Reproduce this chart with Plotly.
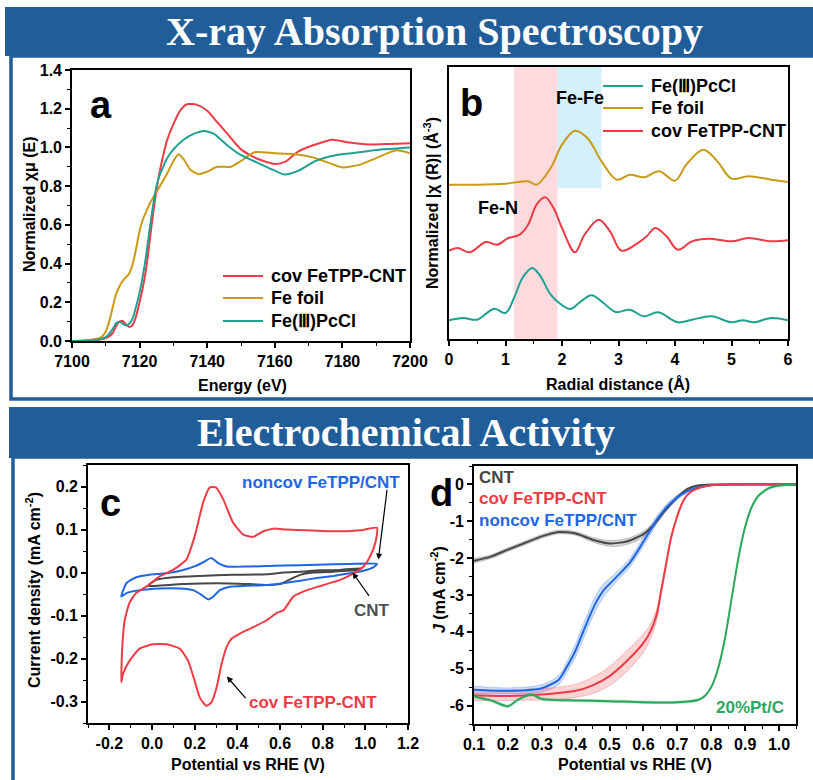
import plotly.graph_objects as go

# ---------------- Panel a : XANES ----------------
E_cov = [7100, 7105, 7108, 7110, 7112, 7113, 7114, 7115, 7116, 7117, 7118, 7119, 7120, 7121, 7122,
         7123, 7124, 7125, 7126, 7127, 7128, 7130, 7132, 7134, 7137, 7140, 7143, 7146, 7150, 7155,
         7160, 7163, 7167, 7172, 7177, 7182, 7188, 7194, 7200]
mu_cov = [0, 0.002, 0.006, 0.015, 0.04, 0.075, 0.1, 0.103, 0.085, 0.072, 0.085, 0.13, 0.2, 0.28, 0.38,
          0.52, 0.66, 0.78, 0.88, 0.96, 1.03, 1.12, 1.19, 1.223, 1.22, 1.19, 1.13, 1.07, 0.99, 0.94,
          0.915, 0.925, 0.98, 1.015, 1.04, 1.025, 1.015, 1.018, 1.022]

E_foil = [7100, 7104, 7107, 7109, 7110, 7111, 7112, 7113, 7114, 7115, 7116, 7117, 7118, 7119, 7120,
          7121, 7122, 7123, 7124, 7125, 7126, 7128, 7130, 7131.5, 7133, 7135, 7137.5, 7140, 7143,
          7147, 7150, 7154, 7160, 7166, 7171, 7176, 7180, 7185, 7190, 7196, 7200]
mu_foil = [0, 0.003, 0.01, 0.025, 0.05, 0.1, 0.17, 0.24, 0.28, 0.31, 0.33, 0.35, 0.4, 0.48, 0.57,
           0.63, 0.67, 0.71, 0.74, 0.77, 0.8, 0.86, 0.93, 0.965, 0.94, 0.885, 0.862, 0.875, 0.9,
           0.9, 0.93, 0.975, 0.97, 0.965, 0.95, 0.92, 0.897, 0.91, 0.945, 0.985, 0.97]

E_pc = [7100, 7105, 7108, 7110, 7112, 7113, 7114, 7115, 7116, 7117, 7118, 7119, 7120, 7121, 7122,
        7123, 7124, 7125, 7126, 7127, 7128, 7130, 7133, 7136, 7139, 7142, 7146, 7150, 7155, 7160,
        7163, 7167, 7172, 7178, 7185, 7192, 7200]
mu_pc = [0, 0.003, 0.008, 0.02, 0.06, 0.09, 0.1, 0.09, 0.08, 0.09, 0.12, 0.18, 0.25, 0.34, 0.45,
         0.58, 0.7, 0.8, 0.86, 0.9, 0.94, 0.99, 1.04, 1.07, 1.085, 1.07, 1.01, 0.96, 0.92, 0.88,
         0.86, 0.88, 0.93, 0.96, 0.975, 0.99, 1.0]

# ---------------- Panel b : FT-EXAFS (offset, arb. units) ----------------
R_pc = [0, 0.25, 0.5, 0.8, 1.0, 1.15, 1.3, 1.47, 1.6, 1.8, 1.95, 2.15, 2.3, 2.52, 2.7, 2.95, 3.2,
        3.45, 3.7, 4.05, 4.3, 4.65, 5.0, 5.2, 5.4, 5.7, 6.0]
chi_pc = [0.686, 0.772, 0.711, 1.115, 0.956, 1.507, 2.243, 2.61, 2.365, 1.63, 1.324, 1.103, 1.324,
          1.605, 1.385, 0.993, 1.078, 0.833, 0.98, 0.613, 0.711, 0.833, 0.613, 0.686, 0.613, 0.772, 0.686]

R_cov = [0, 0.15, 0.37, 0.65, 0.85, 1.05, 1.25, 1.4, 1.55, 1.7, 1.85, 2.0, 2.23, 2.4, 2.65, 2.85,
         3.05, 3.3, 3.5, 3.65, 3.85, 4.05, 4.3, 4.6, 5.0, 5.3, 5.7, 6.0]
chi_cov = [3.248, 3.346, 3.186, 3.566, 3.468, 3.713, 3.836, 4.203, 4.939, 5.208, 4.816, 4.081, 3.186,
           3.836, 4.387, 3.958, 3.248, 3.468, 3.775, 4.081, 3.775, 3.284, 3.591, 3.689, 3.591,
           3.713, 3.591, 3.627]

R_foil = [0, 0.5, 1.0, 1.4, 1.55, 1.8, 2.0, 2.23, 2.45, 2.7, 2.97, 3.2, 3.45, 3.72, 4.0, 4.2, 4.5,
          4.75, 5.0, 5.3, 5.7, 6.0]
chi_foil = [5.674, 5.674, 5.711, 5.797, 5.674, 6.287, 7.145, 7.659, 7.39, 6.532, 5.858, 6.042, 5.944,
            6.164, 5.821, 6.409, 6.961, 6.532, 5.895, 5.98, 5.858, 5.772]

FeN_range = [1.15, 1.92]
FeFe_range = [1.92, 2.7]
FeFe_bottom = 5.54

# ---------------- Panel c : CV ----------------
V_cv_cov = [-0.144, -0.14, -0.128, -0.105, -0.075, -0.027, 0.036, 0.099, 0.161, 0.2, 0.24, 0.271, 0.3,
            0.334, 0.38, 0.428, 0.475, 0.522, 0.569, 0.63, 0.726, 0.82, 0.914, 0.976, 1.055,
            1.047, 1.023, 0.992, 0.945, 0.882, 0.804, 0.726, 0.663, 0.616, 0.585, 0.538, 0.475,
            0.412, 0.373, 0.35, 0.326, 0.303, 0.279, 0.255, 0.224, 0.2, 0.169, 0.13, 0.067, 0.005,
            -0.058, -0.105, -0.136, -0.144]
j_cv_cov = [-0.255, -0.18, -0.111, -0.07, -0.048, -0.033, -0.009, 0.006, 0.03, 0.084, 0.163, 0.198,
            0.198, 0.17, 0.116, 0.088, 0.083, 0.096, 0.102, 0.1, 0.098, 0.096, 0.096, 0.098, 0.104,
            0.069, 0.038, 0.014, -0.002, -0.017, -0.029, -0.041, -0.056, -0.088, -0.094, -0.111,
            -0.127, -0.142, -0.154, -0.173, -0.213, -0.267, -0.302, -0.31, -0.291, -0.252, -0.205,
            -0.177, -0.167, -0.167, -0.177, -0.205, -0.236, -0.255]

V_cv_non = [-0.144, -0.12, -0.074, -0.011, 0.067, 0.146, 0.208, 0.248, 0.279, 0.31, 0.35, 0.459,
            0.616, 0.773, 0.929, 1.055, 1.039, 0.992, 0.929, 0.851, 0.773, 0.694, 0.616, 0.538,
            0.444, 0.365, 0.318, 0.287, 0.263, 0.232, 0.193, 0.13, 0.036, -0.058, -0.12, -0.144]
j_cv_non = [-0.056, -0.025, -0.011, -0.005, -0.002, 0.006, 0.016, 0.026, 0.034, 0.022, 0.014, 0.014,
            0.016, 0.018, 0.02, 0.02, 0.0125, 0.004, -0.0016, -0.008, -0.013, -0.019, -0.025, -0.029,
            -0.031, -0.033, -0.041, -0.056, -0.0625, -0.052, -0.041, -0.037, -0.037, -0.041,
            -0.048, -0.056]

V_cv_cnt = [-0.019, 0.02, 0.099, 0.224, 0.38, 0.538, 0.616, 0.694, 0.788, 0.882, 0.984,
            0.945, 0.851, 0.757, 0.694, 0.647, 0.6, 0.553, 0.459, 0.303, 0.146, 0.02, -0.019]
j_cv_cnt = [-0.031, -0.017, -0.011, -0.008, -0.0055, -0.004, 0.0, 0.002, 0.005, 0.006, 0.01,
            0.005, 0.002, 0.0, -0.0055, -0.016, -0.027, -0.029, -0.027, -0.025, -0.027, -0.031, -0.031]

# ---------------- Panel d : LSV ----------------
V_cnt = [0.1, 0.15, 0.2, 0.25, 0.3, 0.35, 0.4, 0.45, 0.5, 0.55, 0.6, 0.63, 0.66, 0.7, 0.73, 0.76,
         0.8, 0.9, 1.05]
J_cnt = [-2.07, -1.96, -1.77, -1.59, -1.41, -1.29, -1.33, -1.5, -1.6, -1.55, -1.35, -1.1, -0.75,
         -0.35, -0.12, -0.03, -0.005, 0, 0]
dJ_cnt = [0.06, 0.05, 0.05, 0.05, 0.05, 0.05, 0.05, 0.06, 0.08, 0.08, 0.08, 0.06, 0.05, 0.04,
          0.02, 0.01, 0.0, 0.0, 0.0]

V_non = [0.1, 0.2, 0.3, 0.35, 0.38, 0.4, 0.42, 0.44, 0.46, 0.48, 0.5, 0.53, 0.56, 0.58, 0.6, 0.62,
         0.64, 0.67, 0.7, 0.73, 0.76, 0.8, 0.85, 1.05]
J_non = [-5.57, -5.6, -5.53, -5.3, -4.85, -4.5, -4.05, -3.6, -3.2, -2.9, -2.7, -2.42, -2.12, -1.85,
         -1.55, -1.25, -0.95, -0.6, -0.35, -0.18, -0.08, -0.02, 0, 0]
dJ_non = [0.1, 0.08, 0.1, 0.12, 0.15, 0.18, 0.2, 0.2, 0.2, 0.18, 0.15, 0.12, 0.12, 0.12, 0.12,
          0.12, 0.1, 0.08, 0.06, 0.04, 0.02, 0.01, 0.0, 0.0]

V_cov = [0.1, 0.2, 0.3, 0.4, 0.45, 0.5, 0.55, 0.6, 0.62, 0.64, 0.65, 0.66, 0.67, 0.68, 0.7, 0.72,
         0.74, 0.77, 0.8, 0.85, 1.05]
J_cov = [-5.72, -5.74, -5.7, -5.6, -5.45, -5.2, -4.8, -4.3, -4.0, -3.5, -3.0, -2.5, -2.0, -1.5,
         -0.85, -0.4, -0.2, -0.08, -0.02, 0, 0]
dJ_cov = [0.15, 0.12, 0.15, 0.18, 0.22, 0.26, 0.28, 0.25, 0.2, 0.15, 0.1, 0.08, 0.06, 0.05, 0.04,
          0.03, 0.02, 0.01, 0.0, 0.0, 0.0]

V_pt = [0.1, 0.15, 0.2, 0.23, 0.27, 0.3, 0.4, 0.5, 0.6, 0.7, 0.76, 0.78, 0.8, 0.82, 0.84, 0.86,
        0.88, 0.9, 0.92, 0.94, 0.97, 1.0, 1.05]
J_pt = [-5.75, -5.86, -6.02, -5.84, -5.7, -5.82, -5.86, -5.88, -5.91, -5.91, -5.85, -5.75, -5.5,
        -5.0, -4.2, -3.1, -2.0, -1.15, -0.6, -0.3, -0.1, -0.03, 0]
dJ_pt = [0.03] * len(V_pt)

# legend entries (label, colour key)
legend_a = [("cov FeTPP-CNT", "red"), ("Fe foil", "gold"), ("Fe(Ⅲ)PcCl", "teal")]
legend_b = [("Fe(Ⅲ)PcCl", "teal"), ("Fe foil", "gold"), ("cov FeTPP-CNT", "red")]

# tick labels
a_xticks = [7100, 7120, 7140, 7160, 7180, 7200]
a_yticks = [0.0, 0.2, 0.4, 0.6, 0.8, 1.0, 1.2, 1.4]
b_xticks = [0, 1, 2, 3, 4, 5, 6]
c_xticks = [-0.2, 0.0, 0.2, 0.4, 0.6, 0.8, 1.0, 1.2]
c_xlabels = ["-0.2", "0.0", "0.2", "0.4", "0.6", "0.8", "1.0", "1.2"]
c_yticks = [-0.3, -0.2, -0.1, 0.0, 0.1, 0.2]
c_ylabels = ["-0.3", "-0.2", "-0.1", "0.0", "0.1", "0.2"]
d_xticks = [0.1, 0.2, 0.3, 0.4, 0.5, 0.6, 0.7, 0.8, 0.9, 1.0]
d_yticks = [0, -1, -2, -3, -4, -5, -6]
d_ylabels = ["0", "-1", "-2", "-3", "-4", "-5", "-6"]

# ---------------- styling ----------------
W, H = 813, 780
COL = {"red": "#EE3B45", "gold": "#C99A16", "teal": "#20A091"}
RED = COL["red"]
GOLD = COL["gold"]
TEAL = COL["teal"]
BLUE = "#1F66E5"
GREY = "#474747"
GREEN = "#2BA85C"
BANNER = "#215D99"
SANS = "Liberation Sans, Arial, sans-serif"
SERIF = "Liberation Serif, Times New Roman, serif"


def px(x):
    return x / W


def py(y):
    return 1 - y / H


fig = go.Figure()

# panel a
for xs, ys, col in [(E_cov, mu_cov, RED), (E_foil, mu_foil, GOLD), (E_pc, mu_pc, TEAL)]:
    fig.add_trace(go.Scatter(x=xs, y=ys, mode="lines", showlegend=False,
                             line=dict(color=col, width=2, shape="spline", smoothing=0.6),
                             xaxis="x", yaxis="y"))

# panel b
for xs, ys, col in [(R_pc, chi_pc, TEAL), (R_foil, chi_foil, GOLD), (R_cov, chi_cov, RED)]:
    fig.add_trace(go.Scatter(x=xs, y=ys, mode="lines", showlegend=False,
                             line=dict(color=col, width=2, shape="spline", smoothing=1.0),
                             xaxis="x2", yaxis="y2"))

# panel c
for xs, ys, col in [(V_cv_cnt, j_cv_cnt, GREY), (V_cv_non, j_cv_non, BLUE), (V_cv_cov, j_cv_cov, RED)]:
    fig.add_trace(go.Scatter(x=xs, y=ys, mode="lines", showlegend=False,
                             line=dict(color=col, width=2, shape="spline", smoothing=0.5),
                             xaxis="x3", yaxis="y3"))


def rgba(hexcol, a):
    h = hexcol.lstrip("#")
    return "rgba(%d,%d,%d,%.2f)" % (int(h[0:2], 16), int(h[2:4], 16), int(h[4:6], 16), a)


# panel d bands + lines
for xs, ys, dys, col in [(V_cnt, J_cnt, dJ_cnt, GREY), (V_non, J_non, dJ_non, BLUE),
                         (V_cov, J_cov, dJ_cov, RED), (V_pt, J_pt, dJ_pt, GREEN)]:
    up = [y + d for y, d in zip(ys, dys)]
    lo = [y - d for y, d in zip(ys, dys)]
    fig.add_trace(go.Scatter(x=xs, y=up, mode="lines", showlegend=False,
                             line=dict(color=rgba(col, 0.35), width=0.8, shape="spline"),
                             xaxis="x4", yaxis="y4", hoverinfo="skip"))
    fig.add_trace(go.Scatter(x=xs, y=lo, mode="lines", showlegend=False, fill="tonexty",
                             fillcolor=rgba(col, 0.22),
                             line=dict(color=rgba(col, 0.35), width=0.8, shape="spline"),
                             xaxis="x4", yaxis="y4", hoverinfo="skip"))
for xs, ys, col in [(V_cnt, J_cnt, GREY), (V_non, J_non, BLUE), (V_cov, J_cov, RED), (V_pt, J_pt, GREEN)]:
    fig.add_trace(go.Scatter(x=xs, y=ys, mode="lines", showlegend=False,
                             line=dict(color=col, width=2, shape="spline", smoothing=0.6),
                             xaxis="x4", yaxis="y4"))

tickfont = dict(family=SANS, size=16, color="black", weight="bold")


def axis(domain, rng, **kw):
    d = dict(domain=domain, range=rng, showline=True, linecolor="black", linewidth=1.6, mirror=True,
             ticks="outside", ticklen=5, tickwidth=1.5, tickcolor="black", showgrid=False,
             zeroline=False, tickfont=tickfont, fixedrange=True, automargin=False)
    d.update(kw)
    return d


def minor(dt):
    return dict(ticks="outside", ticklen=3, tickwidth=1.2, tickcolor="black", dtick=dt, showgrid=False)


fig.update_layout(
    template="none", showlegend=False,
    width=W, height=H, margin=dict(l=0, r=0, t=0, b=0, pad=0, autoexpand=False),
    paper_bgcolor="white", plot_bgcolor="white",
    xaxis=axis([px(72), px(410)], [7100, 7200], anchor="y", tickvals=a_xticks, minor=minor(10)),
    yaxis=axis([py(341), py(70)], [0, 1.4], anchor="x", tickvals=a_yticks, tickformat=".1f", minor=minor(0.1)),
    xaxis2=axis([px(449), px(788)], [0, 6], anchor="y2", tickvals=b_xticks, minor=minor(0.5)),
    yaxis2=axis([py(339), py(67)], [0, 10], anchor="x2", ticks="", showticklabels=False),
    xaxis3=axis([px(88), px(408)], [-0.3, 1.2], anchor="y3", tickvals=c_xticks, ticktext=c_xlabels, minor=minor(0.1)),
    yaxis3=axis([py(723), py(465)], [-0.35, 0.25], anchor="x3", tickvals=c_yticks, ticktext=c_ylabels, minor=minor(0.05)),
    xaxis4=axis([px(474), px(796)], [0.1, 1.05], anchor="y4", tickvals=d_xticks, tickformat=".1f", minor=minor(0.05)),
    yaxis4=axis([py(724), py(466)], [-6.5, 0.5], anchor="x4", tickvals=d_yticks, ticktext=d_ylabels, minor=minor(0.5)),
)

shapes = [
    # banners
    dict(type="rect", xref="paper", yref="paper", x0=px(5), x1=1.01, y0=py(56), y1=py(7),
         fillcolor=BANNER, line=dict(width=0), layer="below"),
    dict(type="rect", xref="paper", yref="paper", x0=px(9), x1=1.01, y0=py(458), y1=py(407),
         fillcolor=BANNER, line=dict(width=0), layer="below"),
    # section frames
    dict(type="rect", xref="paper", yref="paper", x0=px(11), x1=1.02, y0=py(399), y1=py(56),
         line=dict(color=BANNER, width=3.5), layer="below"),
    dict(type="rect", xref="paper", yref="paper", x0=px(13), x1=1.02, y0=-0.05, y1=py(457),
         line=dict(color=BANNER, width=3.5), layer="below"),
    # panel b highlight regions
    dict(type="rect", xref="x2", yref="y2 domain", x0=FeN_range[0], x1=FeN_range[1], y0=0, y1=1,
         fillcolor="#FDDADD", line=dict(width=0), layer="below"),
    dict(type="rect", xref="x2", yref="y2", x0=FeFe_range[0], x1=FeFe_range[1], y0=FeFe_bottom, y1=10,
         fillcolor="#D4F0FA", line=dict(width=0), layer="below"),
]

ann = []


def note(text, x, y, xref="paper", yref="paper", font=None, ang=0, xanchor="center"):
    ann.append(dict(text=text, x=x, y=y, xref=xref, yref=yref, showarrow=False, textangle=ang,
                    xanchor=xanchor, yanchor="middle", font=font))


legfont = dict(family=SANS, size=18, color="black", weight="bold")
# legends (key line + label)
for entries, lx, rows in [(legend_a, 223, [276, 298, 321]), (legend_b, 603, [86, 108, 131])]:
    for (label, key), ry in zip(entries, rows):
        shapes.append(dict(type="line", xref="paper", yref="paper", x0=px(lx), x1=px(lx + 40),
                           y0=py(ry), y1=py(ry), line=dict(color=COL[key], width=2)))
        note(label, px(lx + 46), py(ry), font=legfont, xanchor="left")

fig.update_layout(shapes=shapes)

# banner titles
note("<b>X-ray Absorption Spectroscopy</b>", px(434), py(32), font=dict(family=SERIF, size=40, color="white"))
note("<b>Electrochemical Activity</b>", px(406), py(432), font=dict(family=SERIF, size=40, color="white"))
# panel letters
for t, x, y in [("a", 101, 105), ("b", 471, 103), ("c", 110, 503), ("d", 442, 493)]:
    note("<b>%s</b>" % t, px(x), py(y), font=dict(family=SANS, size=38, color="black"))
# axis titles
tf = dict(family=SANS, size=16, color="black", weight="bold")
for t, x, y, ang in [("Energy (eV)", 242, 385, 0),
                     ("Normalized χμ (E)", 30, 205, -90),
                     ("Radial distance (Å)", 618, 384, 0),
                     ("Normalized |χ (R)| (Å<sup>-3</sup>)", 431, 203, -90),
                     ("Potential vs RHE (V)", 248, 764, 0),
                     ("Current density (mA cm<sup>-2</sup>)", 33, 590, -90),
                     ("Potential vs RHE (V)", 635, 764, 0),
                     ("<i>J</i> (mA cm<sup>-2</sup>)", 438, 590, -90)]:
    note(t, px(x), py(y), font=tf, ang=ang)
# panel b labels
lf = dict(family=SANS, size=18, color="black", weight="bold")
note("Fe-Fe", 2.32, 8.85, "x2", "y2", lf)
note("Fe-N", 0.87, 4.82, "x2", "y2", lf)


def cf(col):
    return dict(family=SANS, size=17, color=col, weight="bold")


# panel c labels + arrows
note("noncov FeTPP/CNT", 0.79, 0.209, "x3", "y3", cf(BLUE))
note("CNT", 1.03, -0.089, "x3", "y3", cf("#505050"))
note("cov FeTPP-CNT", 0.754, -0.302, "x3", "y3", cf(RED))
for hx, hy, tx, ty in [(1.061, 0.03, 1.103, 0.197), (0.94, 0.0, 1.024, -0.059), (0.351, -0.242, 0.446, -0.296)]:
    ann.append(dict(text=" ", font=dict(size=1), x=hx, y=hy, ax=tx, ay=ty, xref="x3", yref="y3",
                    axref="x3", ayref="y3", showarrow=True, arrowhead=2, arrowsize=1,
                    arrowwidth=1.2, arrowcolor="black"))
# panel d labels
note("CNT", 0.108, 0.19, "x4", "y4", cf("#444444"), xanchor="left")
note("cov FeTPP-CNT", 0.108, -0.38, "x4", "y4", cf(RED), xanchor="left")
note("noncov FeTPP/CNT", 0.108, -0.97, "x4", "y4", cf(BLUE), xanchor="left")
note("20%Pt/C", 0.914, -6.05, "x4", "y4", cf(GREEN))

fig.update_layout(annotations=ann)
fig.write_html("out.html", config={"displayModeBar": False},
               post_script="document.body.style.margin='0px';document.body.style.overflow='hidden';")
